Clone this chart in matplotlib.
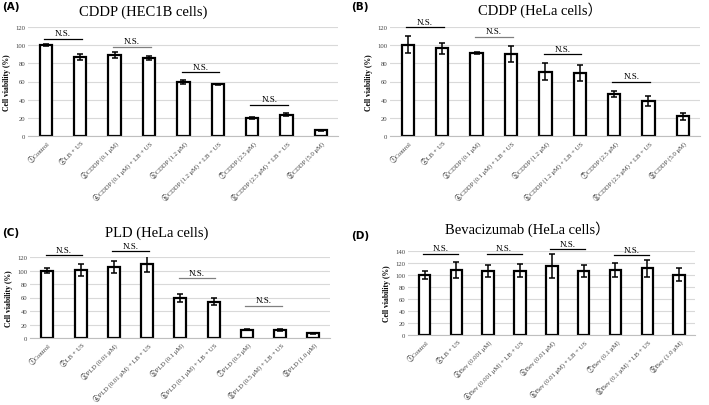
import matplotlib
matplotlib.use("Agg")
import matplotlib.pyplot as plt

# 패널별 데이터
labels_a = ["①Control", "②LB + US", "③CDDP (0.1 μM)", "④CDDP (0.1 μM) + LB + US",
            "⑤CDDP (1.2 μM)", "⑥CDDP (1.2 μM) + LB + US", "⑦CDDP (2.5 μM)",
            "⑧CDDP (2.5 μM) + LB + US", "⑨CDDP (5.0 μM)"]
values_a = [100, 87, 89, 86, 59.5, 57, 19.5, 23.5, 6.5]
errors_a = [0.8, 3.5, 3, 2, 2.5, 0.6, 1, 1.5, 0.5]

labels_b = labels_a
values_b = [100.5, 96.5, 91.5, 90, 71, 69.5, 46.5, 38, 21.5]
errors_b = [9.5, 6, 1, 9, 9, 9, 3.5, 5.5, 3.5]

labels_c = ["①Control", "②LB + US", "③PLD (0.01 μM)", "④PLD (0.01 μM) + LB + US",
            "⑤PLD (0.1 μM)", "⑥PLD (0.1 μM) + LB + US", "⑦PLD (0.5 μM)",
            "⑧PLD (0.5 μM) + LB + US", "⑨PLD (1.0 μM)"]
values_c = [100, 101, 105, 110, 59, 54, 12.5, 12, 7]
errors_c = [4, 9, 8.5, 12, 5.5, 5.5, 1, 1, 1]

labels_d = ["①Control", "②LB + US", "③Bev (0.001 μM)", "④Bev (0.001 μM) + LB + US",
            "⑤Bev (0.01 μM)", "⑥Bev (0.01 μM) + LB + US", "⑦Bev (0.1 μM)",
            "⑧Bev (0.1 μM) + LB + US", "⑨Bev (1.0 μM)"]
values_d = [100, 108, 106.5, 107.5, 115.5, 106.5, 108.5, 111, 100.5]
errors_d = [7, 13, 10, 11, 20, 10.5, 11, 14, 11]

# N.S. 표시: (시작 막대, 끝 막대, 높이, 색)
ns_a = [(0, 1, 107, "black"), (2, 3, 98, "gray"), (4, 5, 70, "black"), (6, 7, 34.5, "black")]
ns_b = [(0, 1, 119.5, "black"), (2, 3, 109.5, "gray"), (4, 5, 90, "black"), (6, 7, 60, "black")]
ns_c = [(0, 1, 122.5, "black"), (2, 3, 128.5, "black"), (4, 5, 88.5, "gray"), (6, 7, 48, "gray")]
ns_d = [(0, 1, 135.5, "black"), (2, 3, 135.5, "black"), (4, 5, 143, "black"), (6, 7, 133.5, "black")]

SERIF = ["Liberation Serif", "Noto Sans CJK JP", "DejaVu Sans"]
W, H = 709, 406

fig = plt.figure(figsize=(W / 100, H / 100), dpi=100)


def px_axes(x0, x1, y_top, y_bot):
    """픽셀 좌표(왼쪽 위 기준)로 axes 생성."""
    return fig.add_axes([x0 / W, 1 - y_bot / H, (x1 - x0) / W, (y_bot - y_top) / H])


def draw_panel(ax, labels, values, errors, ns, ymax, ystep, title, tag, title_xy, tag_xy):
    x = list(range(len(values)))
    ax.bar(x, values, width=0.36, color="white", edgecolor="black", linewidth=1.6, zorder=3)
    ax.errorbar(x, values, yerr=errors, fmt="none", ecolor="black", elinewidth=1.1,
                capsize=2, capthick=1.1, zorder=4)
    ax.set_xlim(-0.52, 8.5)
    ax.set_ylim(0, ymax)
    ax.set_yticks(range(0, ymax + 1, ystep))
    ax.grid(axis="y", color="#d9d9d9", linewidth=0.8, zorder=0)
    for s in ["top", "right", "left"]:
        ax.spines[s].set_visible(False)
    ax.spines["bottom"].set_color("#bfbfbf")
    ax.spines["bottom"].set_zorder(5)
    ax.tick_params(axis="both", length=0, pad=2, labelsize=4.8, colors="#404040")
    ax.set_xticks(x)
    ax.set_xticklabels(labels, rotation=45, ha="right", rotation_mode="anchor",
                       fontsize=4.8, family=SERIF, color="#404040")
    for t in ax.get_yticklabels():
        t.set_family(SERIF)
    ax.set_ylabel("Cell viability (%)", fontsize=5.5, family=SERIF, fontweight="bold",
                  labelpad=3)
    for i0, i1, h, c in ns:
        ax.plot([i0 - 0.05, i1 + 0.05], [h, h], color=c, linewidth=0.9, clip_on=False, zorder=5)
        ax.text((i0 + i1) / 2, h + ymax * 0.015, "N.S.", ha="center", va="bottom",
                fontsize=6.5, family=SERIF, clip_on=False)
    fig.text(title_xy[0] / W, 1 - title_xy[1] / H, title, ha="center", va="center",
             fontsize=10.5, family=SERIF)
    fig.text(tag_xy[0] / W, 1 - tag_xy[1] / H, tag, ha="left", va="center",
             fontsize=7.5, fontweight="bold")


ax_a = px_axes(28, 338, 28, 137)
draw_panel(ax_a, labels_a, values_a, errors_a, ns_a, 120, 20,
           "CDDP (HEC1B cells)", "(A)", (143, 12), (2, 7))

ax_b = px_axes(390, 700, 28, 137)
draw_panel(ax_b, labels_b, values_b, errors_b, ns_b, 120, 20,
           "CDDP (HeLa cells\uff09", "(B)", (540, 10), (351, 7))

ax_c = px_axes(30, 330, 258, 339)
draw_panel(ax_c, labels_c, values_c, errors_c, ns_c, 120, 20,
           "PLD (HeLa cells)", "(C)", (157, 233), (2, 233))

ax_d = px_axes(408, 695, 252, 336)
draw_panel(ax_d, labels_d, values_d, errors_d, ns_d, 140, 20,
           "Bevacizumab (HeLa cells\uff09", "(D)", (527, 229), (351, 236))

fig.savefig("out.png", dpi=100)
